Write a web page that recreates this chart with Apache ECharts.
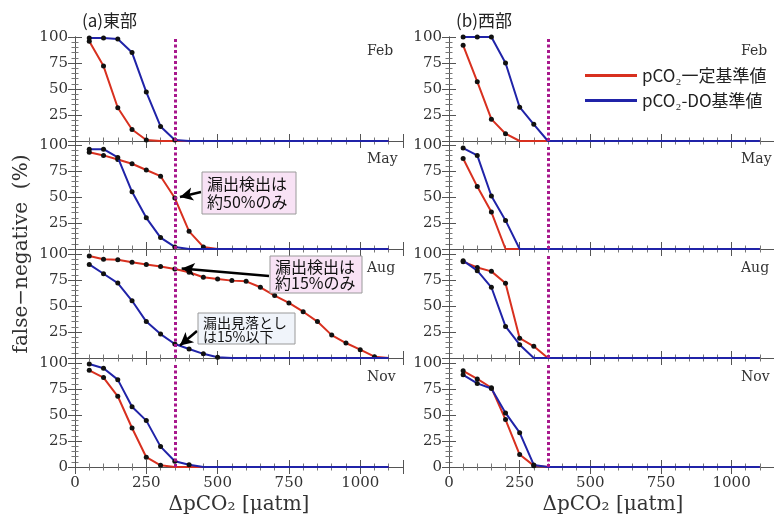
<!DOCTYPE html>
<html><head><meta charset="utf-8">
<script src="https://cdn.jsdelivr.net/npm/echarts@6/dist/echarts.min.js"></script>
<style>html,body{margin:0;padding:0;background:#fff}#c{width:774px;height:517px}</style>
</head><body><div id="c"></div>
<script>
// x positions (ΔpCO2, µatm)
const xs = [50,100,150,200,250,300,350,400,450,500,550,600,650,700,750,800,850,900,950,1000,1050,1100];
const months = ['Feb','May','Aug','Nov'];
const regionTitles = ['(a)東部','(b)西部'];
const seriesNames = ['pCO₂一定基準値','pCO₂-DO基準値'];
const xTicks = [0,250,500,750,1000];
const yTicks = [0,25,50,75,100];
const threshold = 350;

// East (a)
const eastFebRed  = [96,72,32,11,1,0,0,0,0,0,0,0,0,0,0,0,0,0,0,0,0,0];
const eastFebBlue = [99,99,98,85,47,14,1,0,0,0,0,0,0,0,0,0,0,0,0,0,0,0];
const eastMayRed  = [93,90,86,82,76,70,49,17,2,0,0,0,0,0,0,0,0,0,0,0,0,0];
const eastMayBlue = [96,96,88,55,30,11,2,0,0,0,0,0,0,0,0,0,0,0,0,0,0,0];
const eastAugRed  = [98,95,94.5,92,90,88,85.6,82.4,77.6,76,74.4,73.7,68,60,53,44.5,35,22,14.4,8,1.3,0];
const eastAugBlue = [90,81,72,55,35,23,13.5,8.7,4,0.7,0,0,0,0,0,0,0,0,0,0,0,0];
const eastNovRed  = [93,86,68,37.5,9.4,1.6,0,0,0,0,0,0,0,0,0,0,0,0,0,0,0,0];
const eastNovBlue = [99,95,84,58,44.6,19.6,5.5,2.2,0,0,0,0,0,0,0,0,0,0,0,0,0,0];
// West (b)
const westFebRed  = [92,57,21,7,0,0,0,0,0,0,0,0,0,0,0,0,0,0,0,0,0,0];
const westFebBlue = [100,100,100,75,32.5,16,0,0,0,0,0,0,0,0,0,0,0,0,0,0,0,0];
const westMayRed  = [87,60,35.5,0,0,0,0,0,0,0,0,0,0,0,0,0,0,0,0,0,0,0];
const westMayBlue = [97,90,51,27.5,0,0,0,0,0,0,0,0,0,0,0,0,0,0,0,0,0,0];
const westAugRed  = [92.6,87,83.3,71.8,19,11.2,0,0,0,0,0,0,0,0,0,0,0,0,0,0,0,0];
const westAugBlue = [93.6,84,68,30.4,12.8,0,0,0,0,0,0,0,0,0,0,0,0,0,0,0,0,0];
const westNovRed  = [92.5,84.7,76.2,45.6,12,1.3,0,0,0,0,0,0,0,0,0,0,0,0,0,0,0,0];
const westNovBlue = [88.6,80.4,75.5,52,33,2,0,0,0,0,0,0,0,0,0,0,0,0,0,0,0,0];

const panelData = [
  [[eastFebRed,eastFebBlue],[eastMayRed,eastMayBlue],[eastAugRed,eastAugBlue],[eastNovRed,eastNovBlue]],
  [[westFebRed,westFebBlue],[westMayRed,westMayBlue],[westAugRed,westAugBlue],[westNovRed,westNovBlue]]
];

const RED = '#d8301f', BLUE = '#2023a8', MAG = '#a8178c';
const lefts = [75, 449], W = 328;
const tops = [37, 145, 254, 363], H = 104;
const XMAX = 1150;
const serif = 'DejaVu Serif';
const jp = 'Noto Sans CJK JP';

const grid = [], xAxis = [], yAxis = [], series = [], graphic = [];
const axisLine = {show:true, lineStyle:{color:'#555', width:1}};
const tick = {show:true, inside:true, length:7, lineStyle:{color:'#555'}};
const minor = {show:true, splitNumber:5, length:3.5, lineStyle:{color:'#777'}};

for (let c = 0; c < 2; c++) {
  for (let p = 0; p < 4; p++) {
    const g = c*4 + p;
    grid.push({left: lefts[c], top: tops[p], width: W, height: H});
    const xBase = {gridIndex:g, type:'value', min:0, max:XMAX, interval:250,
      axisLine, axisTick:tick, minorTick:minor, splitLine:{show:false}};
    xAxis.push(Object.assign({}, xBase, {position:'bottom',
      axisLabel:{show: p===3, showMaxLabel:false, margin:9, color:'#333', fontFamily:serif, fontSize:15,
        formatter: v => xTicks.includes(v) ? String(v) : ''}}));
    xAxis.push(Object.assign({}, xBase, {position:'top', axisLabel:{show:false}}));
    const yBase = {gridIndex:g, type:'value', min:0, max:100, interval:25,
      axisLine, axisTick:tick, minorTick:minor, splitLine:{show:false}};
    yAxis.push(Object.assign({}, yBase, {position:'left',
      axisLabel:{show:true, showMinLabel: p===3, margin:7, color:'#333', fontFamily:serif, fontSize:15,
        formatter: v => yTicks.includes(v) ? String(v) : ''}}));
    yAxis.push(Object.assign({}, yBase, {position:'right', axisLabel:{show:false}}));

    const [red, blue] = panelData[c][p];
    const mk = (vals) => xs.map((x,i) => [x, vals[i]]);
    const symSize = v => v[1] > 0 ? 5 : 0;
    series.push({type:'line', name:seriesNames[0], xAxisIndex:2*g, yAxisIndex:2*g,
      data: mk(red), symbol:'circle', symbolSize:symSize, showSymbol:true,
      lineStyle:{color:RED, width:2}, itemStyle:{color:'#111'}, z:2, animation:false,
      markLine:{silent:true, symbol:['none','none'], label:{show:false},
        lineStyle:{color:MAG, type:[3,2.5], width:3}, data:[{xAxis:threshold}]}});
    const arrows = [];
    const arrowStyle = {color:'#000', width:2.5, type:'solid'};
    if (c===0 && p===1) arrows.push([{x:201, y:192}, {coord:[368,50]}]);
    if (c===0 && p===2) {
      arrows.push([{x:269, y:276}, {coord:[374,86]}]);
      arrows.push([{x:197, y:331}, {coord:[368,12]}]);
    }
    const s = {type:'line', name:seriesNames[1], xAxisIndex:2*g, yAxisIndex:2*g,
      data: mk(blue), symbol:'circle', symbolSize:symSize, showSymbol:true,
      lineStyle:{color:BLUE, width:2}, itemStyle:{color:'#111'}, z:3, animation:false};
    if (arrows.length) s.markLine = {silent:true, symbol:['none','arrow'], symbolSize:[10,13],
      label:{show:false}, lineStyle:arrowStyle, data:arrows};
    series.push(s);

    graphic.push({type:'text', left: lefts[c] + W - 8 - 28, top: tops[p] + 7,
      style:{text: months[p], font:'14px "DejaVu Serif"', fill:'#333'}});
  }
  graphic.push({type:'text', left: lefts[c] + 7, top: 12,
    style:{text: regionTitles[c], font:'17px "Noto Sans CJK JP"', fill:'#222'}});
  graphic.push({type:'text', x: lefts[c] + 164, y: 505,
    style:{text:'ΔpCO₂ [μatm]', font:'20px "DejaVu Serif"', fill:'#333', align:'center', verticalAlign:'middle'}});
}
// y-axis title
graphic.push({type:'text', x:22, y:254, rotation:Math.PI/2,
  style:{text:'false−negative  (%)', font:'20px "DejaVu Serif"', fill:'#333', align:'center', verticalAlign:'middle'}});
// annotation boxes
const box = (x,y,w,h,fill,text,fs,lh) => {
  graphic.push({type:'rect', shape:{x,y,width:w,height:h}, style:{fill, stroke:'#9a9a9a', lineWidth:1}, z:10});
  graphic.push({type:'text', x:x+5, y:y+3, z:11,
    style:{text, font: fs+'px "Noto Sans CJK JP"', lineHeight:lh, fill:'#111'}});
};
box(202,172,94,42,'#f8e2f5','漏出検出は\n約50%のみ',16,18);
box(270,256,92,37,'#f8e2f5','漏出検出は\n約15%のみ',16,16);
box(198,313,97,31,'#f0f4fa','漏出見落とし\nは15%以下',14,14);

const chart = echarts.init(document.getElementById('c'), null, {renderer:'canvas'});
chart.setOption({
  animation:false,
  grid, xAxis, yAxis, series, graphic,
  legend:{show:true, orient:'vertical', left:580, top:62, itemWidth:52, itemHeight:3, itemGap:8,
    icon:'rect', selectedMode:false,
    textStyle:{fontFamily:jp, fontSize:17, color:'#222', padding:[0,0,0,0]},
    data:[{name:seriesNames[0], itemStyle:{color:RED}}, {name:seriesNames[1], itemStyle:{color:BLUE}}]}
});
</script></body></html>
